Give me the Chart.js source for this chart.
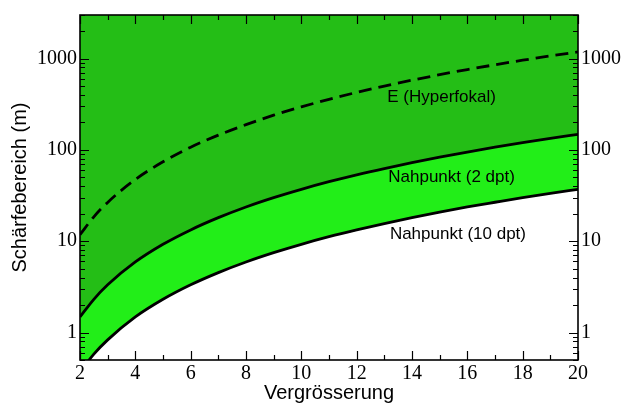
<!DOCTYPE html>
<html>
<head>
<meta charset="utf-8">
<script src="https://cdn.jsdelivr.net/npm/chart.js@4"></script>
<style>
  html, body { margin: 0; padding: 0; background: #fff; }
  #wrap { width: 624px; height: 405px; }
</style>
</head>
<body>
<div id="wrap"><canvas id="dofChart"></canvas></div>
<script>
// Vergrösserung (x)
const vergr = [2, 2.5, 3, 4, 5, 6, 7, 8, 9, 10, 11, 12, 13, 14, 15, 16, 17, 18, 19, 20];

// Schärfebereich in m
const hyperfokal = [11.8, 18.5, 26.6, 47.4, 74, 107, 145, 189, 240, 296, 358, 426, 500, 580, 666, 758, 855, 959, 1069, 1184];
const nah2dpt = [1.48, 2.31, 3.33, 5.92, 9.25, 13.3, 18.1, 23.7, 30, 37, 44.8, 53.3, 62.5, 72.5, 83.3, 94.7, 107, 120, 134, 148];
const nah10dpt = [0.37, 0.58, 0.83, 1.48, 2.31, 3.33, 4.53, 5.92, 7.49, 9.25, 11.2, 13.3, 15.6, 18.1, 20.8, 23.7, 26.7, 30, 33.4, 37];

const yTicks = [1, 10, 100, 1000];

// Kurvenbeschriftungen
const curveLabels = ["E (Hyperfokal)", "Nahpunkt (2 dpt)", "Nahpunkt (10 dpt)"];
const labelX = [15.07, 15.43, 15.66];
const labelY = [377, 49.5, 11.9];

const pts = (ys) => vergr.map((x, i) => ({ x: x, y: ys[i] }));

// Rahmen + Ticks nach innen
const frameTicks = {
  id: "frameTicks",
  afterDatasetsDraw(chart) {
    const c = chart.ctx, a = chart.chartArea;
    const xs = chart.scales.x, ys = chart.scales.y;
    c.save();
    c.strokeStyle = "#000";
    c.lineWidth = 1.2;
    c.beginPath();
    for (let v = 2; v <= 20; v++) {
      const px = Math.round(xs.getPixelForValue(v)) + 0.5;
      const len = v % 2 === 0 ? 9 : 5;
      c.moveTo(px, a.bottom); c.lineTo(px, a.bottom - len);
      c.moveTo(px, a.top); c.lineTo(px, a.top + len);
    }
    for (let d = 0.1; d <= 1000; d *= 10) {
      for (let m = 1; m <= 9; m++) {
        const v = d * m;
        if (v < 0.5 || v > 3000) continue;
        const py = Math.round(ys.getPixelForValue(v)) + 0.5;
        const len = m === 1 ? 9 : 5;
        c.moveTo(a.left, py); c.lineTo(a.left + len, py);
        c.moveTo(a.right, py); c.lineTo(a.right - len, py);
      }
    }
    c.stroke();
    c.lineWidth = 1.6;
    c.strokeRect(a.left, a.top, a.right - a.left, a.bottom - a.top);

    c.fillStyle = "#000";
    c.font = "17px 'Liberation Sans', Arial, sans-serif";
    c.textAlign = "center";
    c.textBaseline = "middle";
    curveLabels.forEach((t, i) => {
      c.fillText(t, xs.getPixelForValue(labelX[i]), ys.getPixelForValue(labelY[i]));
    });
    c.restore();
  }
};

const serif = { family: "'Liberation Serif', 'Times New Roman', serif", size: 20 };
const sans = { family: "'Liberation Sans', Arial, sans-serif", size: 20 };

const logAxis = (pos) => ({
  type: "logarithmic",
  position: pos,
  min: 0.5,
  max: 3000,
  afterBuildTicks: (s) => { s.ticks = yTicks.map((v) => ({ value: v })); },
  ticks: {
    color: "#000",
    font: serif,
    padding: 3,
    callback: (v) => String(v),
  },
  grid: { display: false, drawTicks: false },
  border: { display: false },
});

const config = {
  type: "line",
  data: {
    datasets: [
      {
        label: "E (Hyperfokal)",
        data: pts(hyperfokal),
        borderColor: "#000",
        borderWidth: 2.8,
        borderDash: [13, 7],
        pointRadius: 0,
        fill: false,
        cubicInterpolationMode: "monotone",
      },
      {
        label: "Nahpunkt (2 dpt)",
        data: pts(nah2dpt),
        borderColor: "#000",
        borderWidth: 2.8,
        pointRadius: 0,
        fill: "end",
        backgroundColor: "#24be16",
        cubicInterpolationMode: "monotone",
      },
      {
        label: "Nahpunkt (10 dpt)",
        data: pts(nah10dpt),
        borderColor: "#000",
        borderWidth: 2.8,
        pointRadius: 0,
        fill: 1,
        backgroundColor: "#22ee18",
        cubicInterpolationMode: "monotone",
      },
    ],
  },
  options: {
    responsive: true,
    maintainAspectRatio: false,
    animation: false,
    layout: { padding: { top: 13, left: 0, right: 0, bottom: 0 } },
    plugins: { legend: { display: false }, tooltip: { enabled: false } },
    scales: {
      x: {
        type: "linear",
        min: 2,
        max: 20,
        ticks: { stepSize: 2, color: "#000", font: serif, padding: 2, maxRotation: 0 },
        grid: { display: false, drawTicks: false },
        border: { display: false },
        title: { display: true, text: "Vergrösserung", color: "#000", font: sans, padding: { top: -4, bottom: 0 } },
        afterFit: (s) => { s.height = 45; },
      },
      y: Object.assign(logAxis("left"), {
        title: { display: true, text: "Schärfebereich (m)", color: "#000", font: sans, padding: { top: 8, bottom: 0 } },
        afterFit: (s) => { s.width = 80; },
      }),
      y2: Object.assign(logAxis("right"), {
        afterFit: (s) => { s.width = 46; },
      }),
    },
  },
  plugins: [frameTicks],
};

new Chart(document.getElementById("dofChart"), config);
</script>
</body>
</html>
